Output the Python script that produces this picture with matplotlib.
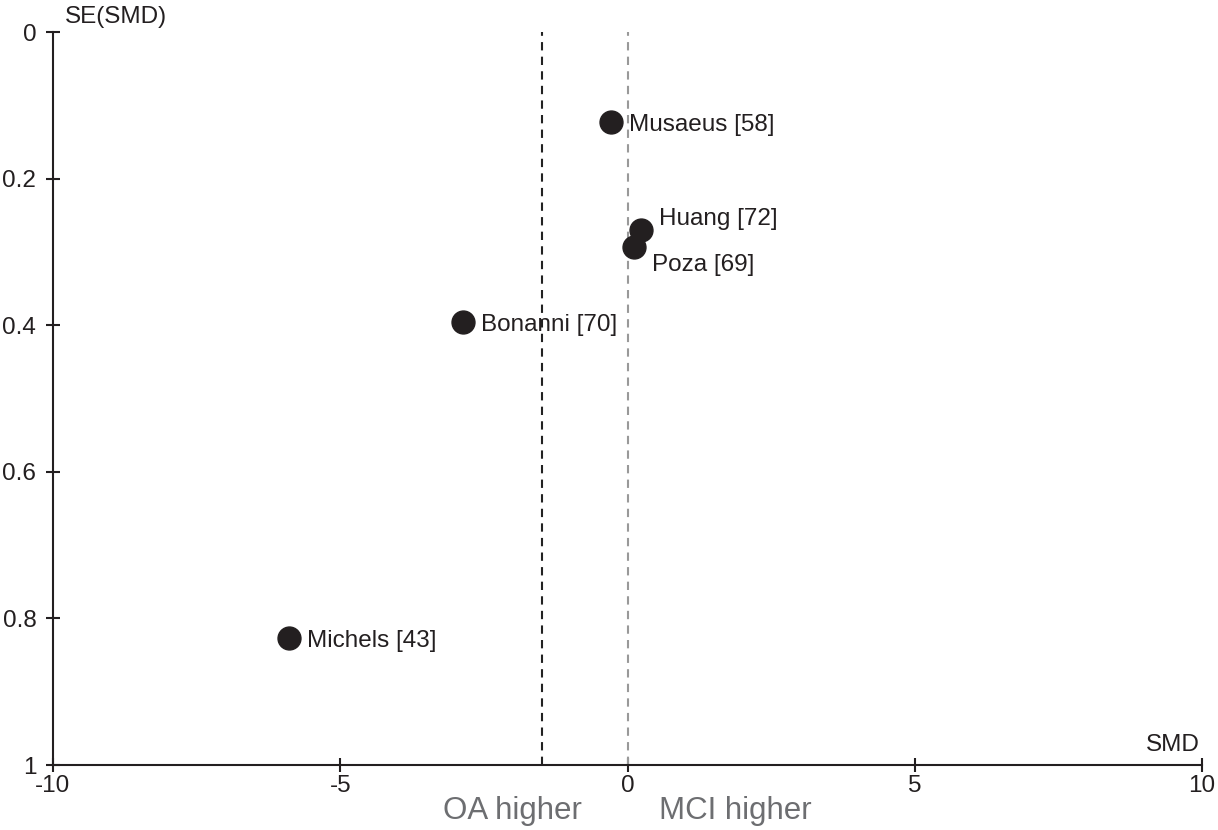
import matplotlib
matplotlib.use("Agg")
import matplotlib.pyplot as plt

plt.rcParams['font.family'] = ['Liberation Sans', 'DejaVu Sans']

studies = ["Musaeus [58]", "Huang [72]", "Poza [69]", "Bonanni [70]", "Michels [43]"]
smd = [-0.29, 0.24, 0.11, -2.87, -5.89]
se = [0.123, 0.270, 0.293, 0.396, 0.827]
label_offsets = [(13, -2), (13, 8), (13, -13), (13, -2), (13, -2)]
pooled_smd = -1.49
null_smd = 0.0
xticks = [-10, -5, 0, 5, 10]
xticklabels = ["-10", "-5", "0", "5", "10"]
yticks = [0, 0.2, 0.4, 0.6, 0.8, 1]
yticklabels = ["0", "0.2", "0.4", "0.6", "0.8", "1"]

FS = 17.5

fig = plt.figure(figsize=(12.18, 8.3), dpi=100)
ax = fig.add_axes([53/1218, 1-765/830, (1202-53)/1218, (765-32)/830])

ax.set_xlim(-10, 10)
ax.set_ylim(1, 0)

ax.axvline(pooled_smd, ymin=0, ymax=1, color="#222222", ls=(0, (4, 3)), lw=1.5)
ax.axvline(null_smd, ymin=0, ymax=1, color="#999999", ls=(0, (4, 3)), lw=1.5)

ax.plot(smd, se, 'o', color="#231f20", markersize=16.5, ls='none', zorder=3, clip_on=False)
for name, x, y, off in zip(studies, smd, se, label_offsets):
    ax.annotate(name, (x, y), xytext=off, textcoords='offset points',
                ha='left', va='center', fontsize=FS, color="#231f20", zorder=4)

for s in ["top", "right"]:
    ax.spines[s].set_visible(False)
for s in ["left", "bottom"]:
    ax.spines[s].set_color("#231f20")
    ax.spines[s].set_linewidth(1.5)

ax.set_xticks(xticks)
ax.set_xticklabels(xticklabels)
ax.set_yticks(yticks)
ax.set_yticklabels(yticklabels)
ax.tick_params(direction='inout', length=10, width=1.5, colors="#231f20",
               labelsize=FS)
ax.tick_params(axis='y', pad=7)
ax.tick_params(axis='x', pad=2)

fig.text(65/1218, 1-17/830, "SE(SMD)", fontsize=FS, color="#231f20", va='center', ha='left')
fig.text(1200/1218, 1-745/830, "SMD", fontsize=FS, color="#231f20", va='center', ha='right')
fig.text(512/1218, 1-811/830, "OA higher", fontsize=22.5, color="#6d6e71", va='center', ha='center')
fig.text(735/1218, 1-811/830, "MCI higher", fontsize=22.5, color="#6d6e71", va='center', ha='center')

fig.savefig("out.png", dpi=100)
